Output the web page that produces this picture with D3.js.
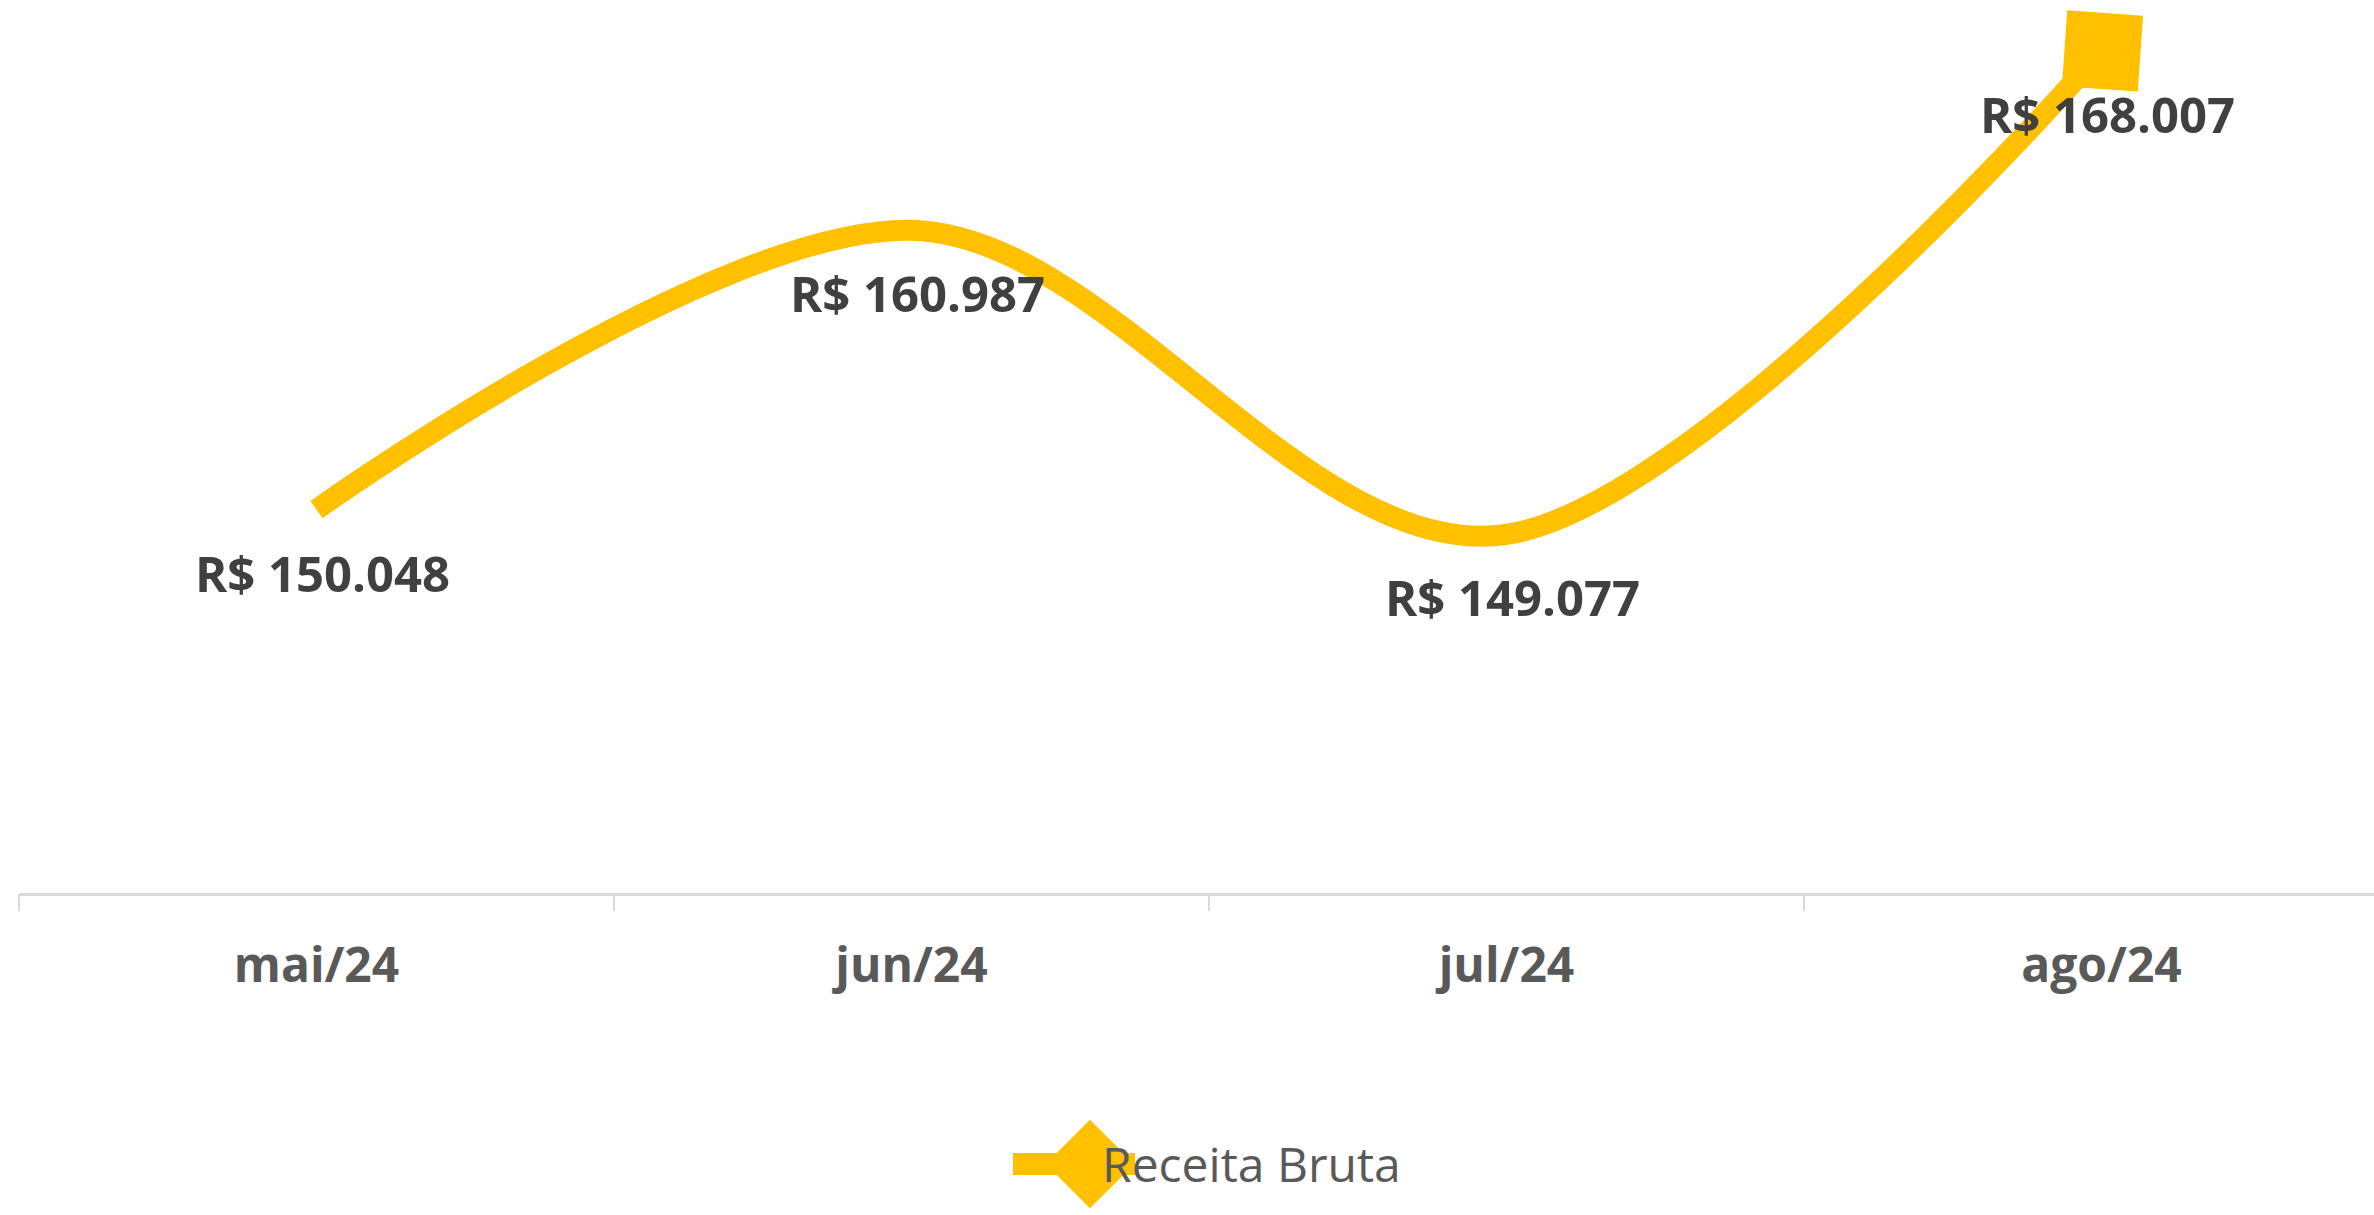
<!doctype html>
<html>
  <head>
    <meta charset="utf-8">
    <script src="https://cdnjs.cloudflare.com/ajax/libs/d3/7.8.5/d3.min.js"></script>
    <style>
      body { margin: 0; background: #fff; }
      svg { display: block; font-family: "Open Sans", sans-serif; }
    </style>
  </head>
<body>
  <svg id="chart" width="2374" height="1215"></svg>
  <script>
    var months = ["mai/24", "jun/24", "jul/24", "ago/24"];
    var receita = [150048, 160987, 149077, 168007];
    var seriesName = "Receita Bruta";
    var yDomain = [135000, 170000];

    var gold = "#FFC000";
    var svg = d3.select("#chart");
    var axisY = 894;

    var x = d3.scaleBand().domain(months).range([19, 2399]);
    var y = d3.scaleLinear().domain(yDomain).range([axisY, 0]);
    var cx = d => x(d) + x.bandwidth() / 2;

    var data = months.map((m, i) => ({month: m, value: receita[i]}));

    // category axis
    var xAxis = svg.append("g")
      .attr("transform", "translate(0," + axisY + ")")
      .call(d3.axisBottom(x).tickSize(0).tickSizeOuter(0));
    xAxis.select(".domain").attr("stroke", "#d9d9d9").attr("stroke-width", 3);
    xAxis.selectAll("text")
      .attr("y", 88).attr("dy", 0)
      .style("font-size", "48px").style("font-weight", "bold")
      .style("font-family", "'Open Sans', sans-serif")
      .attr("fill", "#595959");

    // tick marks between categories
    svg.selectAll("line.tick")
      .data(months)
      .enter()
      .append("line")
      .attr("class", "tick")
      .attr("x1", d => x(d)).attr("x2", d => x(d))
      .attr("y1", axisY).attr("y2", axisY + 17)
      .attr("stroke", "#d9d9d9").attr("stroke-width", 2);

    // smoothed line
    var line = d3.line()
      .x(d => cx(d.month))
      .y(d => y(d.value))
      .curve(d3.curveCardinal.tension(0));

    svg.append("path")
      .datum(data)
      .attr("d", line)
      .attr("fill", "none")
      .attr("stroke", gold)
      .attr("stroke-width", 21);

    // marker on last point
    var last = data[data.length - 1];
    svg.append("rect")
      .attr("x", -38).attr("y", -38)
      .attr("width", 76).attr("height", 76)
      .attr("fill", gold)
      .attr("transform", "translate(" + (cx(last.month) + 1) + "," + y(last.value) + ") rotate(4)");

    // data labels
    svg.selectAll("text.lbl")
      .data(data)
      .enter()
      .append("text")
      .attr("class", "lbl")
      .attr("x", d => cx(d.month) + 6)
      .attr("y", d => y(d.value) + 82)
      .attr("text-anchor", "middle")
      .style("font-size", "49px")
      .style("font-weight", "bold")
      .attr("fill", "#404040")
      .text(d => "R$ " + d3.format(",")(d.value).replace(/,/g, "."));

    // legend
    var lg = svg.append("g").attr("transform", "translate(1090,1164)");
    lg.append("line")
      .attr("x1", -77).attr("x2", 45)
      .attr("stroke", gold).attr("stroke-width", 22);
    lg.append("path")
      .attr("d", d3.symbol().type(d3.symbolDiamond2).size(2 * 50 * 50)())
      .attr("fill", gold);
    lg.append("text")
      .attr("x", 12).attr("y", 18)
      .style("font-size", "48px")
      .attr("fill", "#595959")
      .text(seriesName);
  </script>
</body>
</html>
